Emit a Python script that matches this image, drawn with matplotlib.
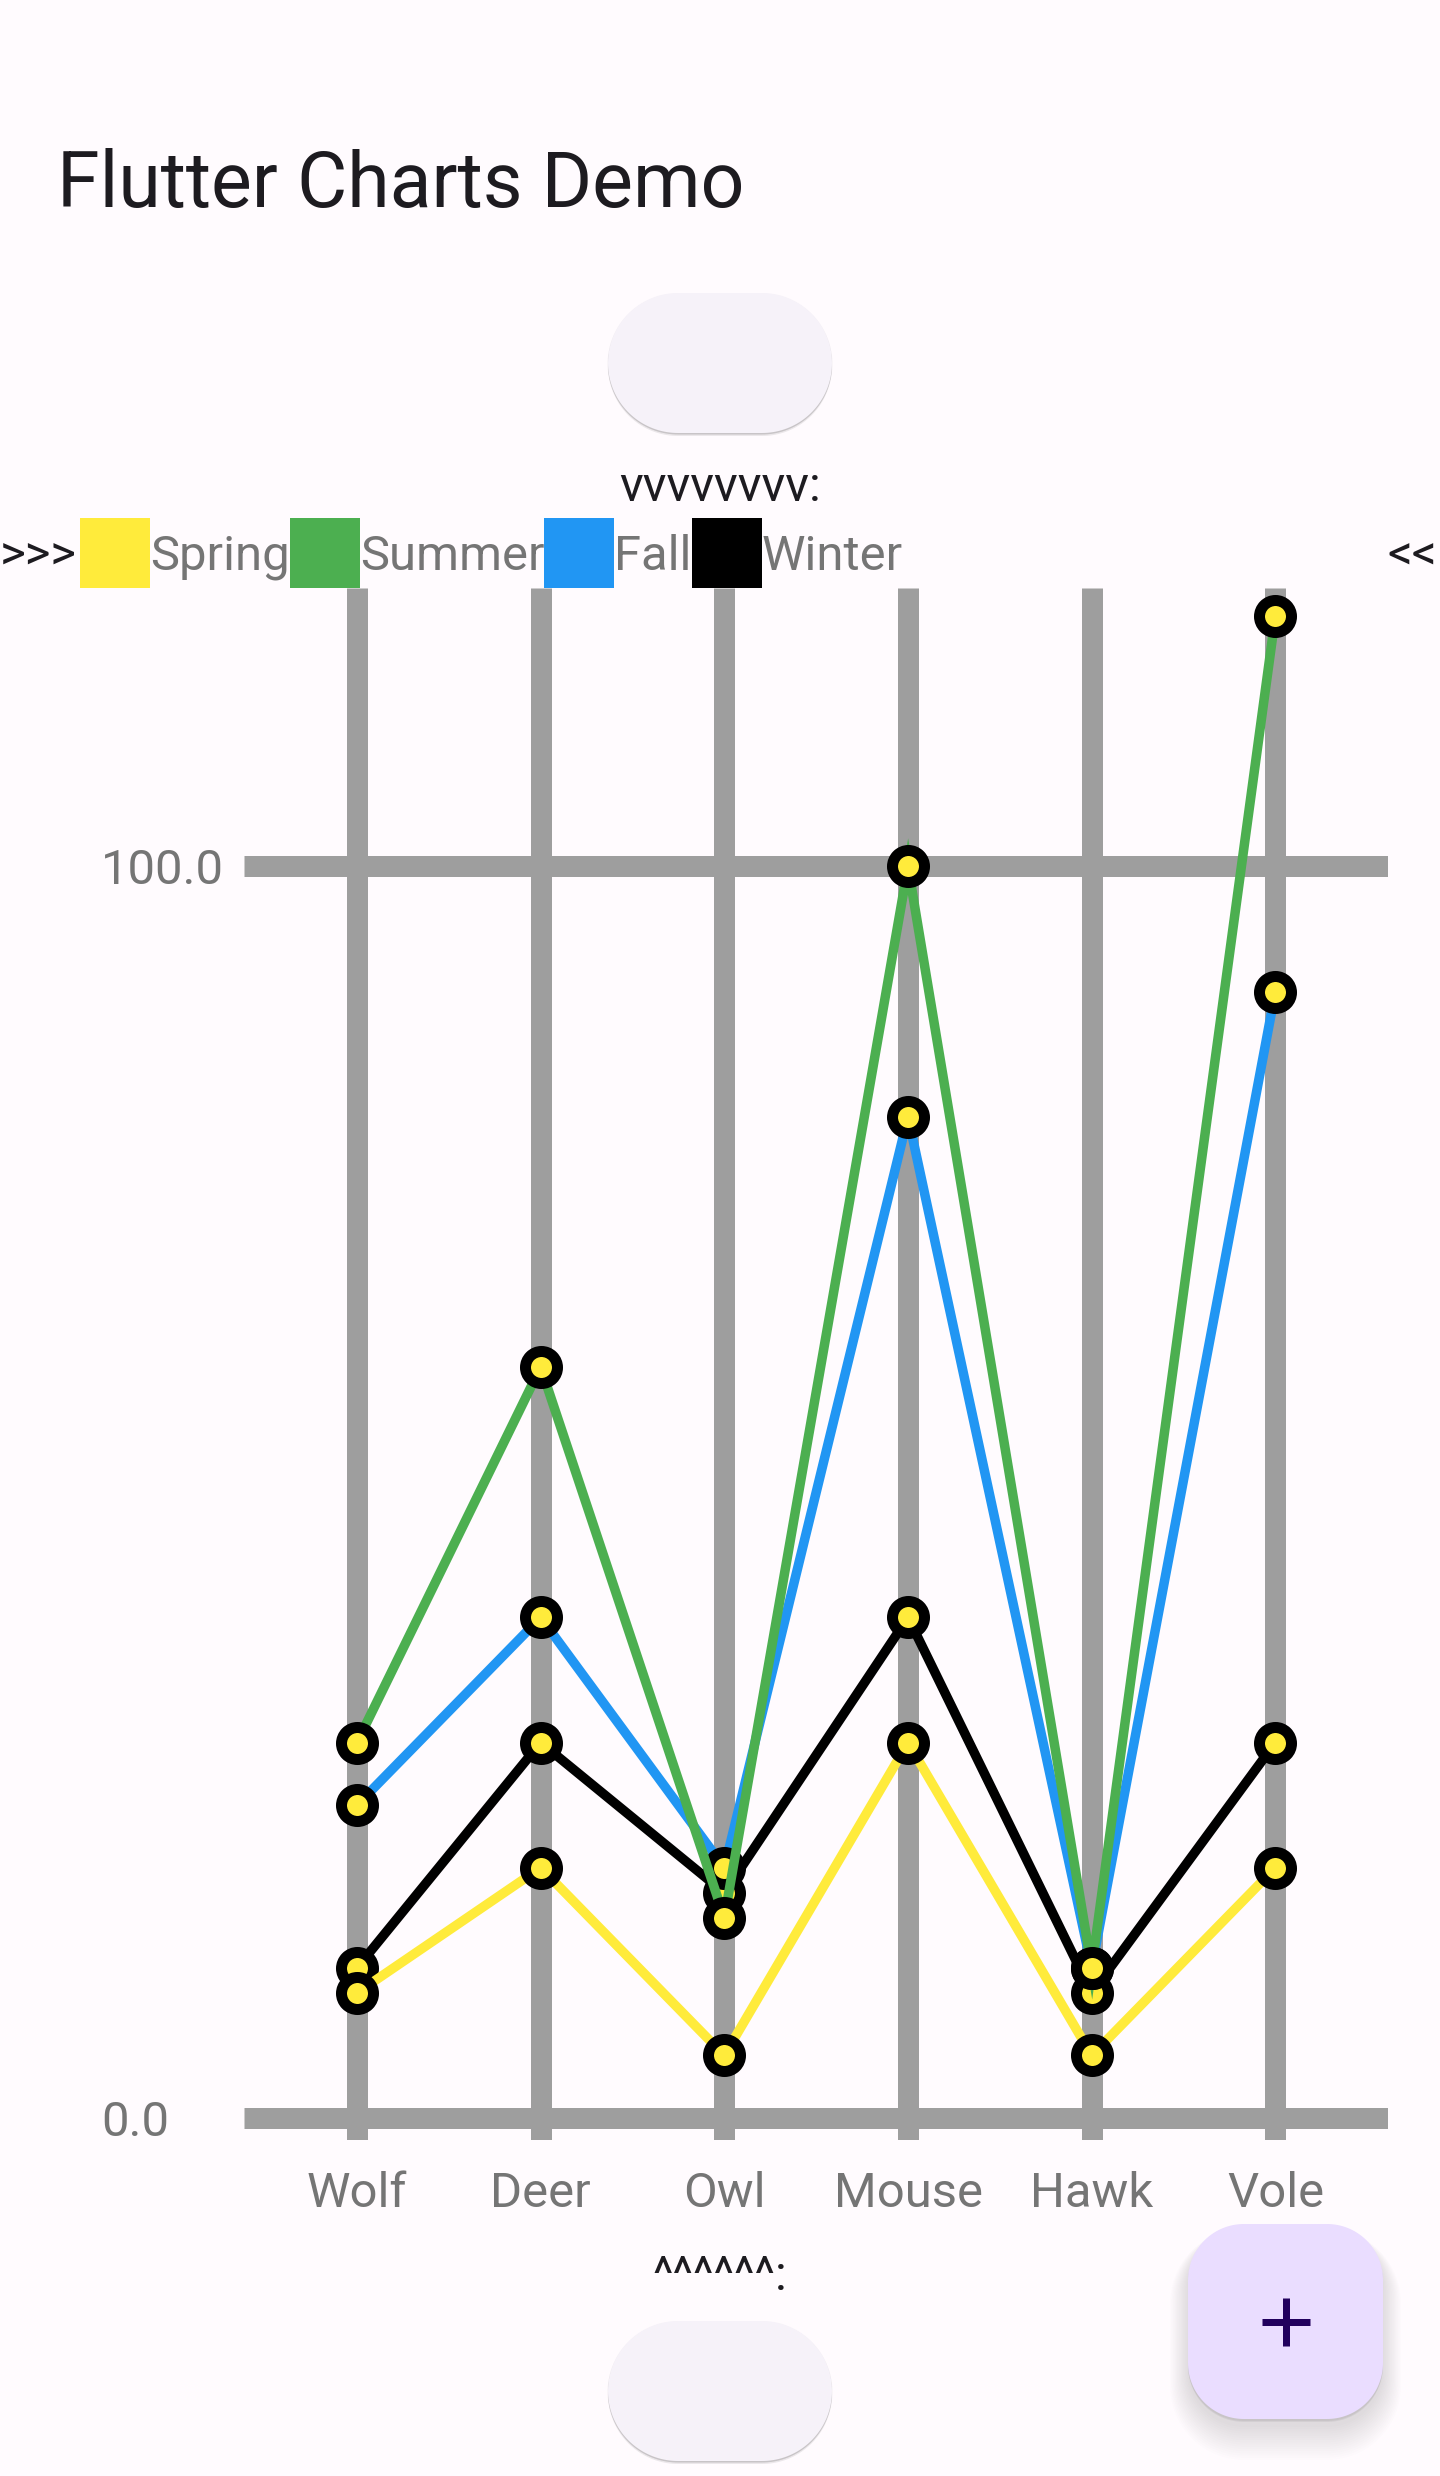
import matplotlib
matplotlib.use('Agg')
import matplotlib.pyplot as plt
from matplotlib.patches import Rectangle, Polygon
import numpy as np

# ---------------- data ----------------
categories = ['Wolf', 'Deer', 'Owl', 'Mouse', 'Hawk', 'Vole']
series_names = ['Spring', 'Summer', 'Fall', 'Winter']
spring = [10, 20, 5, 30, 5, 20]
summer = [30, 60, 16, 100, 12, 120]
fall = [25, 40, 20, 80, 12, 90]
winter = [12, 30, 18, 40, 10, 30]
series_colors = ['#FFEB3B', '#4CAF50', '#2196F3', '#000000']
y_ticks = [0, 100]
y_tick_labels = ['0.0', '100.0']
title = 'Flutter Charts Demo'
top_label = 'vvvvvvvv:'
bottom_label = '^^^^^^:'
legend_left = '>>>'
legend_right = '<<'

# ---------------- setup ----------------
W, H = 1440, 2476
DPI = 100
plt.rcParams['font.family'] = ['Roboto', 'DejaVu Sans']
BG = '#FFFBFE'
fig = plt.figure(figsize=(W / DPI, H / DPI), dpi=DPI, facecolor=BG)


def pt(v):
    return v * 72.0 / DPI


bg = fig.add_axes([0, 0, 1, 1], zorder=0)
bg.set_xlim(0, W)
bg.set_ylim(H, 0)
bg.axis('off')
bg.set_facecolor(BG)

TEXT_DARK = '#1D1B20'
GRAY_TXT = '#757575'
GRID = '#9E9E9E'

# title
bg.text(57, 207, title, fontsize=pt(77), color=TEXT_DARK, ha='left', va='baseline')


def rr_points(x, y, w, h, r, n=40):
    r = min(r, w / 2, h / 2)
    pts = []
    corners = [(x + w - r, y + r, -90, 0), (x + w - r, y + h - r, 0, 90),
               (x + r, y + h - r, 90, 180), (x + r, y + r, 180, 270)]
    for cx, cy, a0, a1 in corners:
        a = np.radians(np.linspace(a0, a1, n))
        pts.extend(zip(cx + r * np.cos(a), cy + r * np.sin(a)))
    return np.array(pts)


def pill(x, y, w, h, r, color, shadow_layers):
    for dy, grow, a in shadow_layers:
        bg.add_patch(Polygon(rr_points(x - grow, y + dy - grow, w + 2 * grow, h + 2 * grow, r + grow),
                             closed=True, fc=(0, 0, 0, a), ec='none', zorder=1))
    bg.add_patch(Polygon(rr_points(x, y, w, h, r), closed=True, fc=color, ec='none', zorder=2))


btn_shadow = [(3, 0, 0.08), (1.5, 0, 0.10), (1, 0.5, 0.05)]
pill(608, 293, 224, 140, 70, '#F6F2F9', btn_shadow)
pill(608, 2321, 224, 140, 70, '#F6F2F9', btn_shadow)

# FAB with soft shadow
fab_shadow = [(8 + i * 1.0, i * 1.2, 0.008) for i in range(16)] + [(3, 0, 0.05), (2, 0, 0.05)]
pill(1188, 2224, 195, 195, 56, '#EADDFF', fab_shadow)
bg.plot([1262, 1310], [2322, 2322], color='#21005D', lw=pt(7), solid_capstyle='butt', zorder=3)
bg.plot([1286, 1286], [2298, 2346], color='#21005D', lw=pt(7), solid_capstyle='butt', zorder=3)

# labels above / below the chart
bg.text(720, 501, top_label, fontsize=pt(49), color=TEXT_DARK, ha='center', va='baseline')
bg.text(720, 2290, bottom_label, fontsize=pt(49), color=TEXT_DARK, ha='center', va='baseline')

# legend row
renderer = fig.canvas.get_renderer()
bg.text(0, 570, legend_left, fontsize=pt(49), color=TEXT_DARK, ha='left', va='baseline')
x = 80
for name, col in zip(series_names, series_colors):
    bg.add_patch(Rectangle((x, 518), 70, 70, fc=col, ec='none', zorder=2))
    t = bg.text(x + 70, 570, name, fontsize=pt(49), color=GRAY_TXT, ha='left', va='baseline')
    bb = t.get_window_extent(renderer=renderer)
    x = bb.x1
bg.text(1387, 570, legend_right, fontsize=pt(49), color=TEXT_DARK, ha='left', va='baseline')

# ---------------- chart ----------------
ax_left, ax_right, ax_top, ax_bottom = 244, 1388, 588, 2140
ax = fig.add_axes([ax_left / W, 1 - ax_bottom / H, (ax_right - ax_left) / W, (ax_bottom - ax_top) / H],
                  zorder=1)
ax.patch.set_alpha(0)
col0, col_last = 357, 1275.4
spacing = (col_last - col0) / (len(categories) - 1)
ax.set_xlim((ax_left - col0) / spacing, (ax_right - col0) / spacing)
y0_px, y100_px = 2118, 866.5
ppu = (y0_px - y100_px) / 100.0
ax.set_ylim(-(ax_bottom - y0_px) / ppu, (y0_px - ax_top) / ppu)
for s in ax.spines.values():
    s.set_visible(False)

xs = list(range(len(categories)))
for i in xs:
    ax.axvline(i, color=GRID, lw=pt(21), solid_capstyle='butt', zorder=1)
for yv in y_ticks:
    ax.axhline(yv, color=GRID, lw=pt(21), solid_capstyle='butt', zorder=1)

ax.set_xticks(xs, categories)
ax.tick_params(axis='x', length=0, pad=pt(67), labelsize=pt(49), labelcolor=GRAY_TXT)
plt.setp(ax.get_xticklabels(), va='baseline')
ax.set_yticks(y_ticks, y_tick_labels)
ax.tick_params(axis='y', length=0, pad=pt(ax_left - 101), labelsize=pt(49), labelcolor=GRAY_TXT)
plt.setp(ax.get_yticklabels(), ha='left')

all_series = [spring, summer, fall, winter]
order = [3, 2, 1, 0]  # Winter drawn first, Spring last
for z, k in enumerate(order):
    ax.plot(xs, all_series[k], color=series_colors[k], lw=pt(9.5), marker='o', ms=pt(32),
            mfc='#FFEB3B', mec='#000000', mew=pt(11), zorder=3 + z, clip_on=False,
            solid_joinstyle='miter')

fig.savefig('out.png', dpi=DPI, facecolor=BG)
